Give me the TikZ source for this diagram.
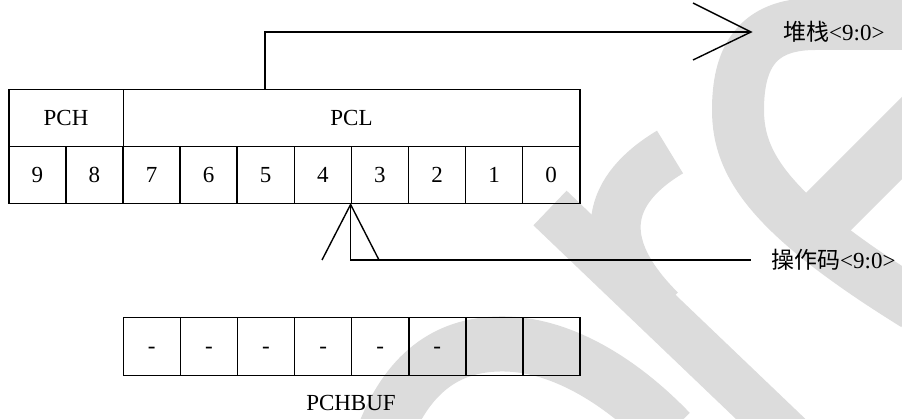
\documentclass[tikz,border=0pt]{standalone}
\usepackage{fontspec}
\setmainfont{Liberation Serif}
\newfontfamily\cjk{Noto Sans CJK SC}
\definecolor{wmgray}{RGB}{220,220,220}
\begin{document}
\begin{tikzpicture}[x=1pt,y=-1pt,
  txt/.style={font=\fontsize{23}{27}\selectfont},
  cell/.style={txt, draw, line width=1.5pt, inner sep=0pt,
    text height=14pt, text depth=0pt,
    minimum height=57pt, minimum width=57.1pt, anchor=north west},
  wire/.style={line width=1.4pt},
  wm/.style={draw=wmgray, line cap=butt, line join=round}
]
\useasboundingbox (0,0) rectangle (902,419);

% light grey background bands
\draw[wm, line width=55pt] (385,432) .. controls (410,370) and (450,343) .. (505,344)
  .. controls (565,345) and (625,385) .. (670,432);
\draw[wm, line width=48pt] (550,208) -- (800,447);
\draw[wm, line width=50pt] (670,152) .. controls (610,188) and (590,240) .. (660,310);
\draw[wm, line width=52pt] (915,24) -- (815,24) .. controls (755,24) and (738,60) .. (738,110)
  .. controls (738,165) and (770,215) .. (915,305);
\draw[wm, line width=58pt] (815,225) -- (925,115);

% program counter: high and low parts
\node[cell, minimum width=114.5pt] (pch) at (8,89) {PCH};
\node[cell, minimum width=456.5pt] (pcl) at (122.5,89) {PCL};
\foreach \i/\d in {0/9,1/8,2/7,3/6,4/5,5/4,6/3,7/2,8/1,9/0}
  \node[cell] (b\d) at ({8+57.1*\i},146) {\d};

% high-byte buffer
\foreach \i/\t in {0/-,1/-,2/-,3/-,4/-,5/-,6/,7/}
  \node[cell, minimum height=58pt] (q\i) at ({122.5+57.1*\i},317) {\t};
\node[txt] (bufname) at (351,403) {PCHBUF};

% path to the stack
\coordinate (stkbend) at (265,32);
\coordinate (stktip) at (751,32);
\coordinate (barbup) at (693,3);
\coordinate (barbdn) at (693,60);
\draw[wire] (stkbend |- pcl.north) -- (stkbend) -- (stktip);
\draw[wire] (barbup) -- (stktip) -- (barbdn);
\node[txt, anchor=west, inner sep=0pt] (stk) at (783,32) {{\cjk 堆栈}<9:0>};

% path from the opcode
\coordinate (opleft) at (322,260);
\coordinate (opright) at (379,260);
\coordinate (opend) at (751,260);
\draw[wire] (opleft) -- (b3.south west) -- (opright);
\draw[wire] (b3.south west) -- (b3.south west |- opend) -- (opend);
\node[txt, anchor=west, inner sep=0pt] (opc) at (771,260) {{\cjk 操作码}<9:0>};
\end{tikzpicture}
\end{document}
